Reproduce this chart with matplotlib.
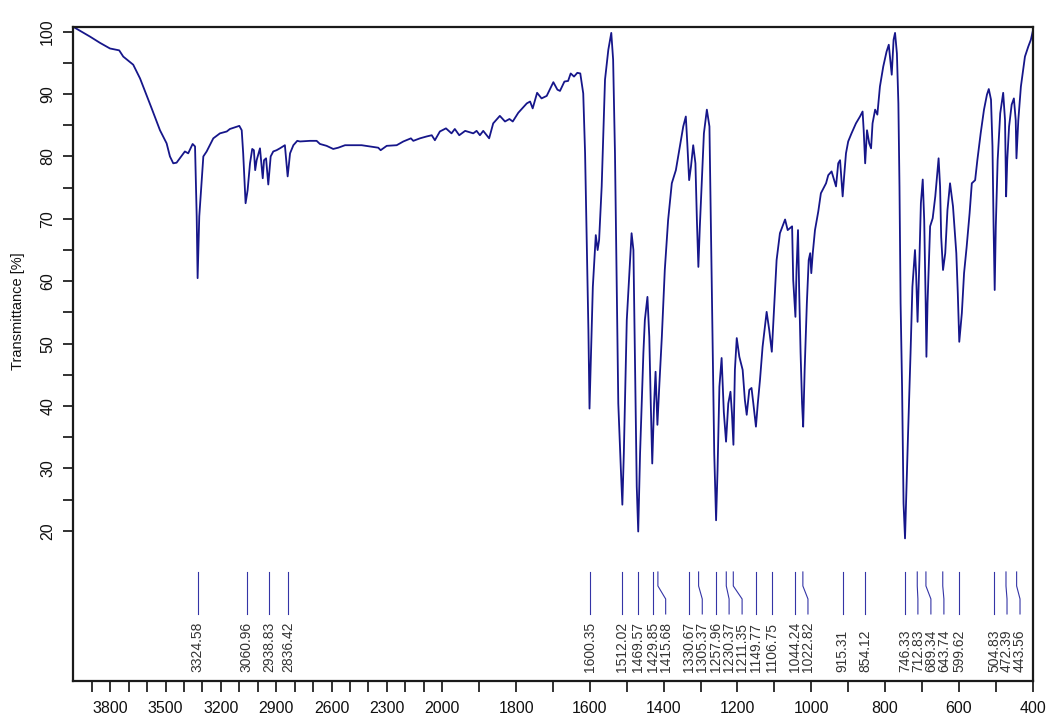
import numpy as np
import matplotlib
matplotlib.use("Agg")
import matplotlib.pyplot as plt
from matplotlib.transforms import blended_transform_factory
from matplotlib.ticker import FixedLocator, FuncFormatter, NullFormatter

# ---------------- data ----------------
wavenumber = [
    3996, 3909, 3855, 3801, 3751, 3729, 3675, 3638, 3575, 3530, 3494, 3476, 3458, 3440,
    3395, 3377, 3353, 3340, 3331, 3326, 3317, 3295, 3277, 3241, 3205, 3168, 3151, 3100,
    3087, 3079, 3066, 3055, 3042, 3030, 3021, 3014, 3006, 2988, 2973, 2966, 2955, 2943,
    2930, 2916, 2898, 2880, 2853, 2838, 2825, 2807, 2786, 2771, 2717, 2681, 2663, 2627,
    2591, 2564, 2527, 2437, 2392, 2347, 2334, 2301, 2247, 2211, 2170, 2157, 2121, 2085,
    2057, 2040, 2013, 1990, 1975, 1966, 1954, 1938, 1916, 1907, 1898, 1889, 1873, 1862,
    1844, 1830, 1818, 1809, 1794, 1771, 1762, 1755, 1743, 1731, 1717, 1699, 1688, 1681,
    1669, 1659, 1652, 1643, 1634, 1626, 1618, 1613, 1608, 1604, 1601, 1597, 1592, 1584,
    1579, 1575, 1568, 1559, 1550, 1542, 1537, 1532, 1527, 1523, 1516, 1512, 1508, 1500,
    1493, 1487, 1482, 1478, 1473, 1469, 1464, 1455, 1451, 1444, 1439, 1435, 1431, 1426,
    1422, 1417, 1412, 1405, 1397, 1388, 1378, 1367, 1356, 1347, 1340, 1336, 1331, 1326,
    1320, 1314, 1310, 1306, 1302, 1296, 1291, 1283, 1276, 1271, 1267, 1263, 1258, 1254,
    1249, 1243, 1237, 1231, 1225, 1219, 1215, 1211, 1207, 1202, 1195, 1186, 1180, 1175,
    1168, 1162, 1157, 1150, 1145, 1139, 1132, 1121, 1114, 1107, 1101, 1094, 1085, 1071,
    1064, 1058, 1052, 1049, 1043, 1040, 1036, 1033, 1029, 1025, 1022, 1018, 1012, 1007,
    1003, 1000, 996, 990, 981, 974, 960, 954, 945, 938, 933, 927, 922, 918, 915, 911,
    906, 900, 891, 879, 868, 861, 858, 854, 849, 843, 838, 834, 827, 821, 814, 805,
    796, 790, 785, 782, 777, 773, 768, 764, 761, 758, 754, 750, 746, 742, 738, 731,
    726, 719, 716, 712, 707, 703, 698, 694, 690, 688, 685, 678, 671, 664, 655, 651,
    648, 643, 637, 631, 624, 616, 607, 603, 599, 592, 586, 579, 571, 565, 556, 550,
    541, 532, 524, 519, 513, 509, 506, 503, 500, 495, 488, 480, 475, 472, 469, 464,
    457, 451, 446, 444, 439, 432, 421, 412, 405, 400,
]
transmittance = [
    100.7, 99.2, 98.2, 97.3, 97.0, 96.0, 94.7, 92.5, 87.7, 84.2, 82.1, 80.0, 78.9, 79.0,
    80.8, 80.5, 82.0, 81.6, 70.4, 60.5, 70.4, 80.0, 80.8, 82.9, 83.7, 84.0, 84.4, 84.9,
    84.2, 80.5, 72.5, 74.6, 78.9, 81.2, 81.0, 77.8, 79.4, 81.3, 76.5, 79.4, 79.7, 75.5,
    80.0, 80.8, 81.0, 81.3, 81.8, 76.8, 80.5, 81.8, 82.5, 82.4, 82.5, 82.5, 82.0, 81.7,
    81.2, 81.4, 81.8, 81.8, 81.6, 81.4, 81.0, 81.7, 81.8, 82.4, 82.9, 82.5, 82.9, 83.2,
    83.4, 82.6, 84.0, 84.5, 83.7, 84.4, 83.4, 84.1, 83.7, 84.1, 83.4, 84.1, 82.9, 85.3,
    86.5, 85.6, 86.0, 85.6, 87.0, 88.5, 88.8, 87.7, 90.2, 89.3, 89.7, 91.9, 90.7, 90.5,
    92.0, 92.1, 93.3, 92.8, 93.4, 93.3, 90.1, 80.5, 64.5, 52.2, 39.6, 48.5, 59.1, 67.4,
    65.0, 66.6, 75.2, 92.3, 97.1, 99.8, 95.5, 80.5, 58.1, 40.4, 29.8, 24.2, 32.4, 53.8,
    61.3, 67.7, 65.0, 48.5, 27.1, 19.9, 32.4, 48.5, 53.8, 57.5, 51.1, 40.4, 30.8, 40.4,
    45.5, 37.0, 43.1, 51.1, 61.8, 69.8, 75.7, 77.8, 81.6, 84.8, 86.4, 82.1, 76.2, 78.4,
    81.8, 78.9, 69.8, 62.3, 68.8, 76.8, 83.7, 87.5, 84.8, 64.5, 48.5, 32.4, 21.7, 29.8,
    43.1, 47.7, 39.0, 34.3, 40.4, 42.3, 38.8, 33.8, 45.8, 50.9, 47.9, 45.8, 41.0, 38.6,
    42.6, 42.9, 40.4, 36.7, 40.4, 44.2, 49.5, 55.1, 52.2, 48.7, 55.4, 63.4, 67.7, 69.9,
    68.2, 68.5, 68.8, 60.2, 54.3, 61.8, 68.2, 59.1, 48.5, 40.4, 36.7, 45.8, 56.5, 63.4,
    64.5, 61.3, 64.5, 68.2, 71.2, 74.1, 75.7, 77.0, 77.6, 76.2, 75.2, 78.9, 79.4, 76.2, 73.6, 76.8,
    80.5, 82.4, 83.7, 85.3, 86.4, 87.2, 84.2, 78.9, 84.2, 82.1, 81.3, 85.3, 87.5, 86.7, 91.2, 94.4,
    96.8, 97.9, 94.9, 93.1, 98.7, 99.8, 96.5, 88.5, 75.2, 56.5, 43.1, 24.4, 18.8, 27.1, 35.1, 48.5,
    59.1, 65.0, 61.3, 53.5, 63.4, 72.5, 76.3, 69.8, 56.5, 47.9, 56.5, 68.8, 70.1, 73.6, 79.7, 75.2,
    67.1, 61.8, 64.5, 71.4, 75.7, 72.0, 64.5, 58.1, 50.3, 54.9, 61.3, 65.5, 70.9, 75.7, 76.2, 79.4,
    83.7, 87.5, 89.9, 90.8, 89.1, 81.6, 68.8, 58.6, 68.8, 79.4, 86.9, 90.2, 85.8, 73.6, 79.4, 84.8,
    88.3, 89.3, 85.8, 79.7, 85.8, 91.2, 96.0, 97.6, 98.7, 100.0,
]
peaks = [3324.58, 3060.96, 2938.83, 2836.42, 1600.35, 1512.02, 1469.57, 1429.85,
         1415.68, 1330.67, 1305.37, 1257.96, 1230.37, 1211.35, 1149.77, 1106.75,
         1044.24, 1022.82, 915.31, 854.12, 746.33, 712.83, 689.34, 643.74, 599.62,
         504.83, 472.39, 443.56]
x_major = [3800, 3500, 3200, 2900, 2600, 2300, 2000, 1800, 1600, 1400, 1200, 1000, 800, 600, 400]
x_minor = [w for w in range(3900, 399, -100) if w not in x_major]
y_major = [20, 30, 40, 50, 60, 70, 80, 90, 100]
y_minor = [25, 35, 45, 55, 65, 75, 85, 95]

plt.rcParams['font.family'] = ['Liberation Sans', 'DejaVu Sans']


def fwd(w):
    w = np.asarray(w, dtype=float)
    return np.where(w > 2000, 2000 + (w - 2000) / 2.0, w)


def inv(u):
    u = np.asarray(u, dtype=float)
    return np.where(u > 2000, 2000 + 2.0 * (u - 2000), u)


fig = plt.figure(figsize=(10.48, 7.18), dpi=100)
ax = fig.add_axes([0.0699, 0.0520, 0.9155, 0.9109])
ax.set_xscale('function', functions=(fwd, inv))
ax.set_xlim(4000, 400)
ax.set_ylim(-4.0, 100.8)

ax.plot(wavenumber, transmittance, color='#16168a', lw=1.3)

# ticks
ax.xaxis.set_major_locator(FixedLocator(x_major))
ax.xaxis.set_minor_locator(FixedLocator(x_minor))
ax.xaxis.set_major_formatter(FuncFormatter(lambda v, p: f"{v:.0f}"))
ax.xaxis.set_minor_formatter(NullFormatter())
ax.yaxis.set_major_locator(FixedLocator(y_major))
ax.yaxis.set_minor_locator(FixedLocator(y_minor))
ax.yaxis.set_major_formatter(FuncFormatter(lambda v, p: f"{v:.0f}"))
ax.yaxis.set_minor_formatter(NullFormatter())

ax.tick_params(axis='x', which='both', direction='out', length=8, width=1.3,
               color='#222222', labelsize=11.5, pad=7, labelcolor='#111111')
ax.tick_params(axis='y', which='both', direction='out', length=7, width=1.3,
               color='#222222', labelsize=11.5, pad=6, labelcolor='#111111',
               labelrotation=90)
for lab in ax.get_yticklabels():
    lab.set_va('center')

for sp in ax.spines.values():
    sp.set_linewidth(1.6)
    sp.set_color('#1a1a1a')

ax.set_ylabel('Transmittance [%]', fontsize=10.5, color='#111111')
ax.yaxis.set_label_coords(-0.050, 0.565)

# peak annotations
fig.canvas.draw()
pk = np.array(peaks, dtype=float)
px = ax.transData.transform(np.column_stack([pk, np.full_like(pk, 50.0)]))[:, 0]
order = np.argsort(px)
lab_px = px.copy()
prev = -1e9
gap = 13.0
for i in order:
    lab_px[i] = max(px[i], prev + gap)
    prev = lab_px[i]
lab_w = ax.transData.inverted().transform(
    np.column_stack([lab_px, np.full_like(lab_px, 50.0)]))[:, 0]

tr = blended_transform_factory(ax.transData, ax.transAxes)
for p, lw_, lpx, ppx in zip(pk, lab_w, lab_px, px):
    if abs(lpx - ppx) > 0.5:
        xs = [p, p, lw_, lw_]
        ys = [0.1662, 0.1448, 0.1249, 0.102]
    else:
        xs = [p, p]
        ys = [0.1662, 0.102]
    ax.plot(xs, ys, transform=tr, color='#3434a6', lw=0.8, clip_on=False)
    ax.text(lw_, 0.0133, f"{p:.2f}", transform=tr, rotation=90, ha='center',
            va='bottom', fontsize=10, color='#333333')

fig.savefig('out.png', dpi=100)
